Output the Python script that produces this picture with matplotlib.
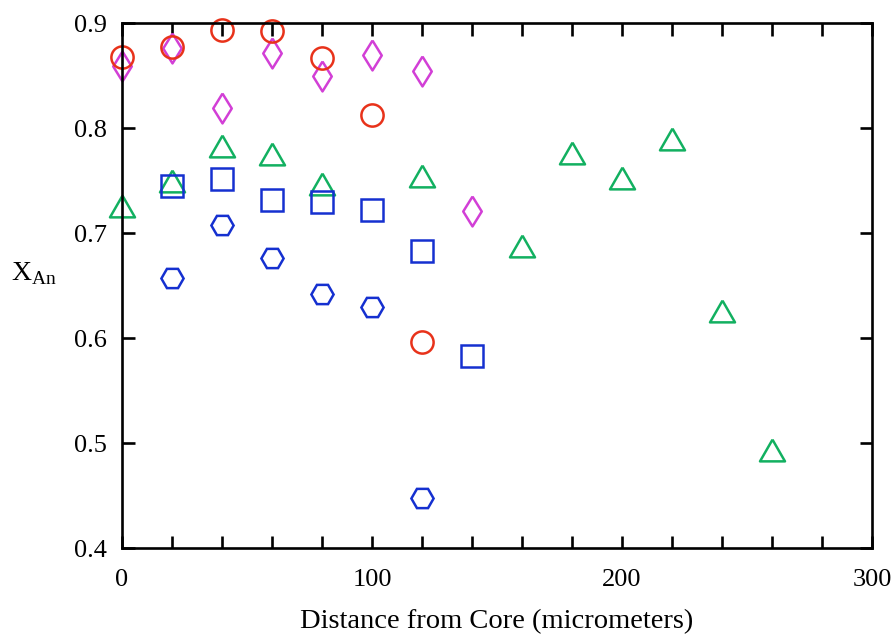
import matplotlib
matplotlib.use("Agg")
import matplotlib.pyplot as plt
from matplotlib.ticker import MultipleLocator

plt.rcParams['font.family'] = ['Liberation Serif', 'DejaVu Serif']
plt.rcParams['mathtext.fontset'] = 'custom'
plt.rcParams['mathtext.rm'] = 'Liberation Serif'

# Red circles
circ_x = [0, 20, 40, 60, 80, 100, 120]
circ_y = [0.868, 0.877, 0.893, 0.892, 0.867, 0.812, 0.596]
# Magenta diamonds
diam_x = [0, 20, 40, 60, 80, 100, 120, 140]
diam_y = [0.859, 0.876, 0.819, 0.871, 0.850, 0.870, 0.854, 0.721]
# Green triangles
tri_x = [0, 20, 40, 60, 80, 120, 160, 180, 200, 220, 240, 260]
tri_y = [0.726, 0.750, 0.783, 0.775, 0.747, 0.754, 0.688, 0.776, 0.752, 0.790, 0.626, 0.493]
# Blue squares
sq_x = [20, 40, 60, 80, 100, 120, 140]
sq_y = [0.745, 0.751, 0.731, 0.730, 0.722, 0.683, 0.583]
# Blue hexagons
hex_x = [20, 40, 60, 80, 100, 120]
hex_y = [0.657, 0.708, 0.676, 0.642, 0.630, 0.448]

x_ticks = [0, 100, 200, 300]
y_ticks = [0.4, 0.5, 0.6, 0.7, 0.8, 0.9]

fig = plt.figure(figsize=(8.96, 6.34), dpi=100)
ax = fig.add_axes([0.1362, 0.1356, 0.8370, 0.8281])

red = '#e8321a'
mag = '#d23fd6'
green = '#12b060'
blue = '#1530d0'
mew = 1.8
tri_marker = [(0, 1), (-1.15, -1), (1.15, -1), (0, 1)]
diam_marker = [(0, 1), (0.62, 0), (0, -1), (-0.62, 0), (0, 1)]

common = dict(linestyle='none', mfc='none', mew=mew, clip_on=False)
ax.plot(tri_x, tri_y, marker=tri_marker, ms=18, mec=green, **common)
ax.plot(sq_x, sq_y, marker='s', ms=15.5, mec=blue, **common)
ax.plot(hex_x, hex_y, marker='H', ms=16, mec=blue, **common)
ax.plot(diam_x, diam_y, marker=diam_marker, ms=21.5, mec=mag, **common)
ax.plot(circ_x, circ_y, marker='o', ms=16, mec=red, **common)

ax.set_xlim(0, 300)
ax.set_ylim(0.4, 0.9)
ax.set_xticks(x_ticks)
ax.set_yticks(y_ticks)
ax.set_yticklabels([f'{v:.1f}' for v in y_ticks])
ax.xaxis.set_minor_locator(MultipleLocator(20))

for s in ax.spines.values():
    s.set_linewidth(1.9)

ax.tick_params(axis='both', which='both', direction='in', width=1.9, top=True, right=True,
               labelsize=19)
ax.tick_params(axis='y', pad=11)
ax.tick_params(axis='x', pad=15)
ax.tick_params(axis='both', which='major', length=9)
ax.tick_params(axis='x', which='minor', length=9)

ax.set_xlabel('Distance from Core (micrometers)', fontsize=20.5, labelpad=13)
ax.set_ylabel(r'X$_{\mathrm{An}}$', fontsize=20, rotation=0)
ax.yaxis.set_label_coords(-0.118, 0.497)

fig.savefig('out.png', dpi=100)
